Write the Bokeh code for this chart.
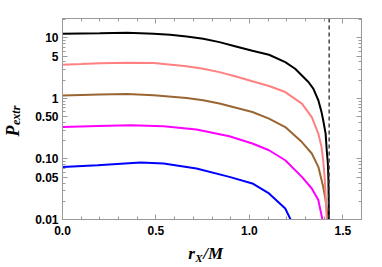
from bokeh.plotting import figure
from bokeh.models import (Range1d, FixedTicker, LinearAxis, LogAxis, Span,
                          CustomJSTickFormatter)
from bokeh.embed import file_html
from bokeh.resources import INLINE

# ---- data ----
x_black = [0.0, 0.10, 0.20, 0.345, 0.488, 0.576, 0.664, 0.753, 0.840, 0.928, 1.016, 1.105, 1.192,
           1.245, 1.281, 1.316, 1.342, 1.369, 1.386, 1.395, 1.408, 1.414, 1.420, 1.423, 1.426]
y_black = [11.6, 11.8, 11.9, 12.1, 11.6, 11.2, 10.5, 9.6, 8.47, 7.2, 6.1, 5.25, 3.96,
           3.08, 2.39, 1.86, 1.45, 0.93, 0.594, 0.434, 0.262, 0.139, 0.084, 0.0446, 0.009]

x_pink = [0.0, 0.10, 0.20, 0.345, 0.488, 0.664, 0.753, 0.840, 0.928, 1.016, 1.105, 1.192,
          1.281, 1.334, 1.369, 1.386, 1.395, 1.404, 1.409, 1.415]
y_pink = [3.59, 3.68, 3.78, 3.87, 3.82, 3.4, 3.08, 2.71, 2.3, 1.91, 1.6, 1.27,
          0.82, 0.49, 0.262, 0.158, 0.095, 0.0446, 0.0209, 0.009]

x_brown = [0.0, 0.10, 0.20, 0.345, 0.488, 0.664, 0.753, 0.840, 0.928, 1.016, 1.105, 1.192,
           1.281, 1.334, 1.369, 1.395, 1.408, 1.414, 1.421]
y_brown = [1.11, 1.14, 1.16, 1.18, 1.12, 1.01, 0.93, 0.82, 0.70, 0.594, 0.462, 0.336,
           0.19, 0.123, 0.074, 0.0346, 0.0209, 0.0143, 0.009]

x_magenta = [0.0, 0.188, 0.365, 0.541, 0.717, 0.893, 1.016, 1.105, 1.192, 1.281, 1.334, 1.369, 1.394]
y_magenta = [0.336, 0.35, 0.359, 0.346, 0.305, 0.237, 0.18, 0.139, 0.095, 0.0505, 0.0325, 0.0209, 0.009]

x_blue = [0.0, 0.188, 0.418, 0.541, 0.717, 0.893, 1.016, 1.105, 1.192, 1.224]
y_blue = [0.0738, 0.0787, 0.087, 0.084, 0.0695, 0.0505, 0.0394, 0.0269, 0.0152, 0.0095]

x_limit = 1.427  # dashed vertical line

x_ticks = [0.0, 0.5, 1.0, 1.5]
x_tick_labels = ["0.0", "0.5", "1.0", "1.5"]
x_minor = [0.1, 0.2, 0.3, 0.4, 0.6, 0.7, 0.8, 0.9, 1.1, 1.2, 1.3, 1.4, 1.6]
y_ticks = [0.01, 0.05, 0.1, 0.5, 1, 5, 10]
y_tick_labels = ["0.01", "0.05", "0.10", "0.50", "1", "5", "10"]
y_minor = [0.02, 0.03, 0.04, 0.06, 0.07, 0.08, 0.09,
           0.2, 0.3, 0.4, 0.6, 0.7, 0.8, 0.9,
           2, 3, 4, 6, 7, 8, 9, 20]

# axis-title pieces: (text, position along the axis)
ylabel_main = ("P", 0.29)
ylabel_sub = ("extr", 0.525)
xlabel_main = [("r", 0.69), ("/M", 0.806)]
xlabel_sub = ("X", 0.73)

frame_col = "#9a9a9a"

p = figure(width=382, height=267, y_axis_type="log",
           x_range=Range1d(0, 1.6), y_range=Range1d(0.01, 20.8),
           output_backend="svg", toolbar_location=None,
           min_border_left=58, min_border_right=21, min_border_top=18, min_border_bottom=48)
p.grid.visible = False
p.outline_line_color = frame_col
p.background_fill_color = "white"
p.border_fill_color = "white"

series = [(x_blue, y_blue, "#0000ff"), (x_magenta, y_magenta, "#ff00ff"),
          (x_brown, y_brown, "#996633"), (x_pink, y_pink, "#ff8080"),
          (x_black, y_black, "#000000")]
for xs, ys, c in series:
    p.line(xs, ys, line_color=c, line_width=2)

p.add_layout(Span(location=x_limit, dimension="height", line_color="#444444",
                  line_width=1.5, line_dash="4 3"))

xt = FixedTicker(ticks=x_ticks, minor_ticks=x_minor)
yt = FixedTicker(ticks=y_ticks, minor_ticks=y_minor)

def style(ax):
    ax.axis_line_color = frame_col
    ax.major_tick_line_color = frame_col
    ax.minor_tick_line_color = frame_col
    ax.major_tick_in = 5
    ax.major_tick_out = 0
    ax.minor_tick_in = 3
    ax.minor_tick_out = 0
    ax.major_label_text_font = "Liberation Sans"
    ax.major_label_text_font_style = "bold"
    ax.major_label_text_font_size = "12px"
    ax.major_label_text_color = "black"

xa = p.xaxis[0]
xa.ticker = xt
xa.major_label_overrides = {t: s for t, s in zip(x_ticks, x_tick_labels)}
style(xa)
xa.major_label_standoff = 6

ya = p.yaxis[0]
ya.ticker = yt
ya.major_label_overrides = {t: s for t, s in zip(y_ticks, y_tick_labels)}
style(ya)
ya.major_label_standoff = 4

blank = CustomJSTickFormatter(code="return ''")
top = LinearAxis(ticker=xt, formatter=blank)
style(top)
top.major_label_standoff = 0
top.major_label_text_font_size = "0px"
p.add_layout(top, "above")
right = LogAxis(ticker=yt, formatter=blank)
style(right)
right.major_label_standoff = 0
right.major_label_text_font_size = "0px"
p.add_layout(right, "right")


def title_axis(cls, pieces, size, standoff, orientation="horizontal"):
    ticks = [v for _, v in pieces]
    ax = cls(ticker=FixedTicker(ticks=ticks, minor_ticks=[]))
    ax.major_label_overrides = {v: t for t, v in pieces}
    ax.axis_line_color = None
    ax.major_tick_line_color = None
    ax.minor_tick_line_color = None
    ax.major_tick_in = 0
    ax.major_tick_out = 0
    ax.minor_tick_in = 0
    ax.minor_tick_out = 0
    ax.major_label_standoff = standoff
    ax.major_label_orientation = orientation
    ax.major_label_text_font = "Liberation Serif"
    ax.major_label_text_font_style = "bold italic"
    ax.major_label_text_font_size = size
    ax.major_label_text_color = "black"
    return ax

# y title: P with subscript extr (vertical text)
p.add_layout(title_axis(LogAxis, [ylabel_sub], "12px", 9, "vertical"), "left")
p.add_layout(title_axis(LogAxis, [ylabel_main], "18px", -17, "vertical"), "left")
# x title: subscript X first (inner), then r and /M (outer)
p.add_layout(title_axis(LinearAxis, [xlabel_sub], "11px", 14), "below")
p.add_layout(title_axis(LinearAxis, xlabel_main, "17px", -23), "below")

open("out.html", "w").write(file_html(p, INLINE))
